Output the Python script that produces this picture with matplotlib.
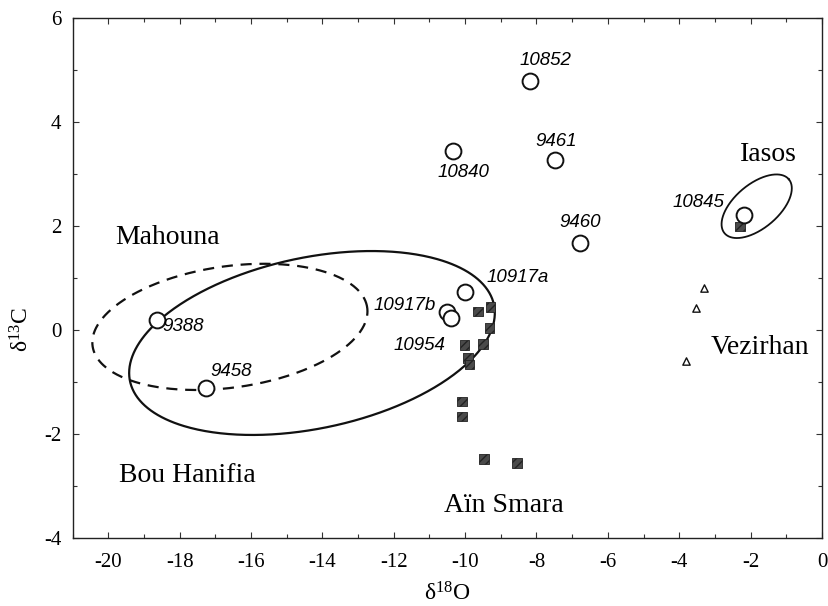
import numpy as np
import matplotlib
matplotlib.use("Agg")
import matplotlib.pyplot as plt
from matplotlib.ticker import MultipleLocator

# ---------------- data ----------------
circle_x = [-8.18, -10.33, -7.47, -6.77, -10.01, -10.51, -10.40, -18.64, -17.26, -2.18]
circle_y = [4.78, 3.45, 3.27, 1.67, 0.74, 0.35, 0.23, 0.19, -1.12, 2.21]

square_x = [-9.28, -9.64, -9.31, -10.01, -9.50, -9.92, -9.87, -10.09, -10.09, -9.47, -8.55, -2.30]
square_y = [0.44, 0.35, 0.04, -0.29, -0.27, -0.54, -0.67, -1.38, -1.67, -2.48, -2.56, 1.99]

triangle_x = [-3.30, -3.54, -3.80]
triangle_y = [0.80, 0.42, -0.60]

sample_labels = ['10852', '10840', '9461', '9460', '10917a', '10917b', '10954', '9388', '9458', '10845']
sample_label_x = [-7.74, -10.06, -7.46, -6.78, -8.52, -11.68, -11.29, -17.90, -16.55, -3.47]
sample_label_y = [5.19, 3.02, 3.62, 2.06, 1.00, 0.48, -0.29, 0.06, -0.79, 2.46]

group_names = ['Mahouna', 'Bou Hanifia', 'A\u00efn Smara', 'Iasos', 'Vezirhan']
group_x = [-18.33, -17.79, -8.91, -1.49, -1.74]
group_y = [1.77, -2.79, -3.37, 3.38, -0.33]

# ellipses: centre x, centre y, semi-major, semi-minor (in x units, isotropic), angle (deg)
ell_names = ['Mahouna', 'Bou Hanifia', 'Iasos']
ell_cx = [-16.59, -14.29, -1.83]
ell_cy = [0.06, -0.25, 2.38]
ell_a = [3.885, 5.21, 1.176]
ell_b = [1.70, 2.395, 0.616]
ell_ang = [8.0, 11.85, 40.0]

x_ticks = [-20, -18, -16, -14, -12, -10, -8, -6, -4, -2, 0]
y_ticks = [-4, -2, 0, 2, 4, 6]

# ---------------- style ----------------
plt.rcParams['font.family'] = ['Liberation Serif', 'DejaVu Serif']
plt.rcParams['mathtext.fontset'] = 'custom'
plt.rcParams['mathtext.rm'] = 'Liberation Serif'
plt.rcParams['mathtext.it'] = 'Liberation Serif:italic'

fig = plt.figure(figsize=(8.29, 6.06), dpi=100)
ax = fig.add_axes([72.5 / 829, 1 - 538 / 606, (822 - 72.5) / 829, (538 - 18) / 606])
ax.set_xlim(-21, 0)
ax.set_ylim(-4, 6)

ax.set_xticks(x_ticks)
ax.set_xticklabels([str(v) for v in x_ticks])
ax.set_yticks(y_ticks)
ax.set_yticklabels([str(v) for v in y_ticks])
ax.xaxis.set_minor_locator(MultipleLocator(1))
ax.yaxis.set_minor_locator(MultipleLocator(1))
ax.tick_params(which='both', direction='in', top=True, right=True, color='#333333', width=0.8)
ax.tick_params(which='major', length=4)
ax.tick_params(which='minor', length=3)
ax.tick_params(axis='x', labelsize=15, pad=11)
ax.tick_params(axis='y', labelsize=15, pad=8)
for sp in ax.spines.values():
    sp.set_linewidth(1.0)
    sp.set_color('#222222')

ax.set_xlabel('\u03b4$^{18}$O', fontsize=17)
ax.set_ylabel('\u03b4$^{13}$C', fontsize=17)
ax.xaxis.set_label_coords(0.5, -0.085)
ax.yaxis.set_label_coords(-0.052, 0.40)

# ellipses drawn in pixel-isotropic space
fig.canvas.draw()
p0 = ax.transData.transform((0, 0))
p1 = ax.transData.transform((1, 1))
k = (p1[1] - p0[1]) / (p1[0] - p0[0])
t = np.linspace(0, 2 * np.pi, 500)
ell_styles = [dict(ls=(0, (5, 3.5)), lw=1.6), dict(ls='-', lw=1.6), dict(ls='-', lw=1.3)]
for cx, cy, a, b, ang, st in zip(ell_cx, ell_cy, ell_a, ell_b, ell_ang, ell_styles):
    th = np.deg2rad(ang)
    u = a * np.cos(t)
    v = b * np.sin(t)
    X = cx + u * np.cos(th) - v * np.sin(th)
    Y = cy + (u * np.sin(th) + v * np.cos(th)) / k
    ax.plot(X, Y, color='#111111', zorder=2, **st)

ax.scatter(square_x, square_y, marker='s', s=45, facecolor='#4a4a4a', edgecolor='#222222',
           linewidth=0.6, hatch='////', zorder=3)
ax.scatter(triangle_x, triangle_y, marker='^', s=28, facecolor='white', edgecolor='#111111',
           linewidth=1.0, zorder=4)
ax.scatter(circle_x, circle_y, marker='o', s=130, facecolor='white', edgecolor='#111111',
           linewidth=1.4, zorder=5)

for lab, lx, ly in zip(sample_labels, sample_label_x, sample_label_y):
    ax.text(lx, ly, lab, fontsize=13.5, style='italic', family=['Liberation Sans', 'DejaVu Sans'],
            ha='center', va='center', zorder=6)

for name, gx, gy in zip(group_names, group_x, group_y):
    ax.text(gx, gy, name, fontsize=20, ha='center', va='center', zorder=6)

fig.savefig('out.png', dpi=100)
